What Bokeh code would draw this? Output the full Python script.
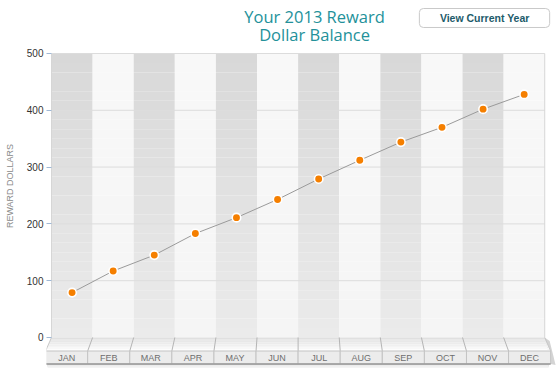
import numpy as np
from bokeh.plotting import figure
from bokeh.models import Range1d, FixedTicker, ColumnDataSource
from bokeh.core.properties import value
from bokeh.embed import file_html
from bokeh.resources import INLINE

# ---- data ----
months = ["JAN", "FEB", "MAR", "APR", "MAY", "JUN", "JUL", "AUG", "SEP", "OCT", "NOV", "DEC"]
balances = [79, 117, 145, 183, 211, 243, 279, 312, 344, 370, 402, 428]
y_ticks = [0, 100, 200, 300, 400, 500]
title_lines = ["Your 2013 Reward", "Dollar Balance"]
button_text = "View Current Year"
y_label = "REWARD DOLLARS"

n = len(months)
ymax = y_ticks[-1]
idx = np.arange(n)
xc = idx + 0.5

p = figure(width=558, height=371, output_backend="svg", toolbar_location=None,
           x_range=Range1d(-0.122, 12.335), y_range=Range1d(-59.9, 593.3),
           min_border_left=46, min_border_right=0, min_border_top=0, min_border_bottom=0)
p.outline_line_color = None
p.background_fill_color = "white"
p.border_fill_color = "white"
p.xgrid.visible = False
p.ygrid.visible = False
p.xaxis.visible = False

ax = p.yaxis[0]
ax.ticker = FixedTicker(ticks=y_ticks)
ax.axis_line_color = None
ax.major_tick_in = 5
ax.major_tick_out = 0
ax.major_tick_line_color = "#9fb8d6"
ax.minor_tick_line_color = None
ax.major_label_standoff = 3
ax.major_label_text_font = "Liberation Sans"
ax.major_label_text_font_size = "10px"
ax.major_label_text_color = "#333333"
ax.axis_label = y_label
ax.axis_label_text_font = "Liberation Sans"
ax.axis_label_text_font_size = "9px"
ax.axis_label_text_font_style = "normal"
ax.axis_label_text_color = "#8a8a8a"
ax.axis_label_standoff = 9

# ---- column bands with vertical gradient ----
nslices = 30
edges = np.linspace(0, ymax, nslices + 1)
L, R, B, T, C = [], [], [], [], []
for i in idx:
    for s in range(nslices):
        f = (edges[s] + edges[s + 1]) / 2 / ymax  # 0 bottom, 1 top
        if i % 2 == 0:
            g = int(round(235 - 19 * f))
        else:
            g = int(round(245 + 3 * f))
        L.append(i); R.append(i + 1); B.append(edges[s]); T.append(edges[s + 1])
        C.append("#%02x%02x%02x" % (g, g, g))
p.quad(left=L, right=R, bottom=B, top=T, fill_color=C, line_color=None)

# grid lines
p.segment(x0=[0] * (len(y_ticks) - 1), x1=[n] * (len(y_ticks) - 1),
          y0=y_ticks[1:], y1=y_ticks[1:], line_color="#dcdcdc", line_width=1)
# frame borders left/right
p.segment(x0=[0, n], x1=[0, n], y0=[0, 0], y1=[ymax, ymax], line_color="#d6d6d6", line_width=1)

# ---- platform (3D base) ----
top_h = -23.8
row_b = -46.6
k = 0.024
cx = n / 2
def persp(x):
    return x + k * (x - cx)
# drop shadow under platform
for off, g in [(1.5, 200), (3.0, 222), (4.5, 240)]:
    col = "#%02x%02x%02x" % (g, g, g)
    p.segment(x0=[persp(0) + 0.05], x1=[persp(n) - 0.05], y0=[row_b - off], y1=[row_b - off],
              line_color=col, line_width=2.5)
# right side face
p.patch(x=[n, n + 0.12, persp(n) + 0.12, persp(n)], y=[0, -6, row_b - 2, row_b],
        fill_color="#d4d4d4", line_color=None)
# top face gradient
nf = 8
fe = np.linspace(0, top_h, nf + 1)
for s in range(nf):
    ya, yb = fe[s], fe[s + 1]
    ka = k * (ya / top_h)
    kb = k * (yb / top_h)
    g = int(round(222 + 32 * ((s + 0.5) / nf)))
    col = "#%02x%02x%02x" % (g, g, g)
    p.patch(x=[0 + ka * (0 - cx), n + ka * (n - cx), n + kb * (n - cx), 0 + kb * (0 - cx)],
            y=[ya, ya, yb, yb], fill_color=col, line_color=None)
# slanted dividers
bx = [persp(i) for i in range(n + 1)]
p.segment(x0=list(range(1, n)), y0=[0] * (n - 1), x1=bx[1:-1], y1=[top_h] * (n - 1),
          line_color="#b5b5b5", line_width=1)
# side edges of top face
p.segment(x0=[0, n], y0=[0, 0], x1=[bx[0], bx[-1]], y1=[top_h, top_h],
          line_color="#c8c8c8", line_width=1)
# front row
p.quad(left=bx[:-1], right=bx[1:], bottom=[row_b] * n, top=[top_h] * n,
       fill_color="#ececec", line_color="#c4c4c4", line_width=1)
p.segment(x0=[bx[0]], x1=[bx[-1]], y0=[row_b], y1=[row_b], line_color="#9a9a9a", line_width=1.5)
# month labels
p.text(x=[(bx[i] + bx[i + 1]) / 2 for i in range(n)], y=[(top_h + row_b) / 2 - 1] * n, text=months,
       text_font=value("Liberation Sans"), text_font_size="9px", text_color="#6e6e6e",
       text_align="center", text_baseline="middle")

# ---- data line and points ----
src = ColumnDataSource(dict(x=xc, y=balances, m=months))
p.line("x", "y", source=src, line_color="#9a9a9a", line_width=1)
p.scatter("x", "y", source=src, size=8.5, fill_color="#f57f00", line_color="white", line_width=1.6)

# ---- title ----
p.text(x=[6.4, 6.4], y=[565, 533.5], text=title_lines,
       text_font=value("Open Sans"), text_font_size="16.5px", text_color="#23919a",
       text_align="center", text_baseline="middle")

# ---- button ----
p.quad(left=[8.95], right=[12.12], bottom=[545.8], top=[579.2], fill_color="white",
       line_color="#c9c9c9", line_width=1, border_radius=4)
p.text(x=[10.54], y=[562.5], text=[button_text], text_font=value("Liberation Sans"),
       text_font_size="10.5px", text_font_style="bold", text_color="#1d5b6a",
       text_align="center", text_baseline="middle")

open("out.html", "w").write(file_html(p, INLINE))
